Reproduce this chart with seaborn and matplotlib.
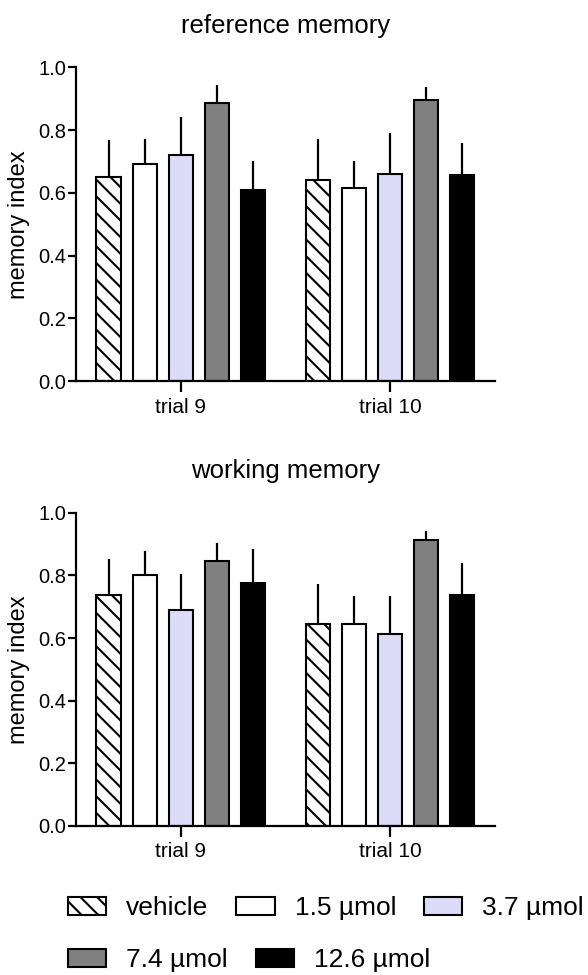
import pandas as pd
import seaborn as sns
import matplotlib.pyplot as plt
from matplotlib.patches import Patch

# veriler
trials = ["trial 9", "trial 10"]
doses = ["vehicle", "1.5 µmol", "3.7 µmol", "7.4 µmol", "12.6 µmol"]

# reference memory: ortalama ve hata (üst uç)
ref_mean = {"trial 9": [0.650, 0.692, 0.720, 0.885, 0.608],
            "trial 10": [0.640, 0.617, 0.661, 0.896, 0.656]}
ref_err = {"trial 9": [0.118, 0.078, 0.121, 0.058, 0.095],
           "trial 10": [0.132, 0.084, 0.129, 0.040, 0.102]}

# working memory
work_mean = {"trial 9": [0.737, 0.803, 0.690, 0.847, 0.777],
             "trial 10": [0.644, 0.645, 0.613, 0.912, 0.738]}
work_err = {"trial 9": [0.116, 0.074, 0.116, 0.058, 0.108],
            "trial 10": [0.128, 0.089, 0.122, 0.029, 0.102]}

colors = ["white", "white", "#dcdcf8", "#808080", "black"]
hatches = ["\\\\", "", "", "", ""]

sns.set_style("ticks")
plt.rcParams["font.family"] = ["Liberation Sans", "DejaVu Sans"]
plt.rcParams["hatch.linewidth"] = 1.5
plt.rcParams["axes.linewidth"] = 1.6
plt.rcParams["text.color"] = "black"
plt.rcParams["axes.labelcolor"] = "black"
plt.rcParams["xtick.color"] = "black"
plt.rcParams["ytick.color"] = "black"
plt.rcParams["axes.edgecolor"] = "black"


def make_df(mean, err):
    rows = []
    for t in trials:
        for d, m, e in zip(doses, mean[t], err[t]):
            rows.append({"trial": t, "dose": d, "value": m, "err": e})
    return pd.DataFrame(rows)


def draw(ax, df, title):
    sns.barplot(data=df, x="trial", y="value", hue="dose", order=trials,
                hue_order=doses, palette=colors, width=0.86, gap=0.33,
                edgecolor="black", linewidth=1.5, errorbar=None,
                legend=False, ax=ax, saturation=1)
    bar_groups = list(ax.containers)
    for i, cont in enumerate(bar_groups):
        sub = df[df["dose"] == doses[i]].set_index("trial").loc[trials]
        for bar, e in zip(cont, sub["err"]):
            bar.set_hatch(hatches[i])
            x = bar.get_x() + bar.get_width() / 2
            h = bar.get_height()
            ax.errorbar(x, h, yerr=[[0], [e]], fmt="none", ecolor="black",
                        elinewidth=1.6, capsize=0, zorder=1)
    ax.set_ylim(0, 1.0)
    ax.set_xlim(-0.5, 1.5)
    ax.set_yticks([0, 0.2, 0.4, 0.6, 0.8, 1.0])
    ax.set_yticklabels(["0.0", "0.2", "0.4", "0.6", "0.8", "1.0"])
    ax.set_xlabel("")
    ax.set_ylabel("memory index", fontsize=17, labelpad=6)
    ax.set_title(title, fontsize=18.5, pad=25)
    ax.tick_params(axis="y", labelsize=14.5, width=1.6, length=6, pad=1)
    ax.tick_params(axis="x", labelsize=15, width=1.6, length=8, pad=4)
    sns.despine(ax=ax)


fig = plt.figure(figsize=(5.88, 9.75), dpi=100)
ax1 = fig.add_axes([0.129, 0.609, 0.713, 0.322])
ax2 = fig.add_axes([0.129, 0.153, 0.713, 0.321])

draw(ax1, make_df(ref_mean, ref_err), "reference memory")
draw(ax2, make_df(work_mean, work_err), "working memory")

handles = [Patch(facecolor=c, edgecolor="black", hatch=h, linewidth=1.5)
           for c, h in zip(colors, hatches)]

leg_kw = dict(frameon=False, fontsize=19, handlelength=1.45, handleheight=0.68,
              handletextpad=0.76, columnspacing=1.05, borderpad=0,
              borderaxespad=0, loc="center left")
fig.legend(handles[:3], doses[:3], ncol=3,
           bbox_to_anchor=(68 / 588, 1 - 908 / 975), **leg_kw)
fig.legend(handles[3:], doses[3:], ncol=2,
           bbox_to_anchor=(68 / 588, 1 - 960 / 975), **leg_kw)

fig.savefig("out.png", dpi=100)
